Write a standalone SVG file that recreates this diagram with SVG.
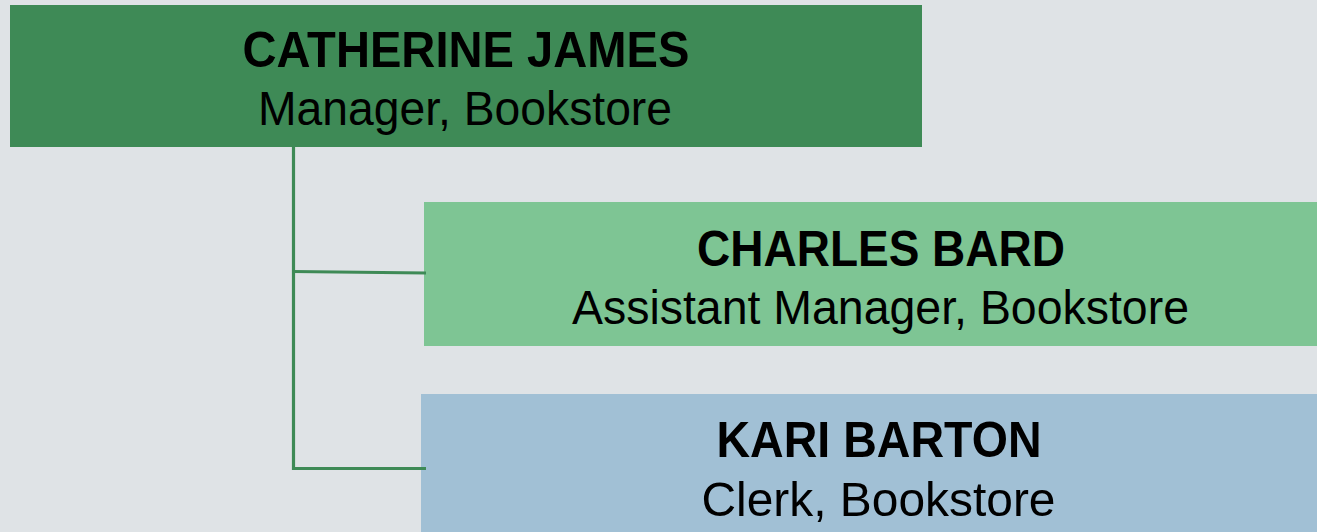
<svg xmlns="http://www.w3.org/2000/svg" width="1317" height="532" viewBox="0 0 1317 532">
<style>
.name{font-family:"Liberation Sans",Arial,sans-serif;font-weight:bold;font-size:50px;fill:#000;text-anchor:middle}
.role{font-family:"Liberation Sans",Arial,sans-serif;font-size:49px;fill:#000;text-anchor:middle}
.conn{stroke:#3e8a56;stroke-width:3.2;fill:none;stroke-linecap:butt}
</style>
<rect x="0" y="0" width="1317" height="532" fill="#dfe3e6"/>
<g id="node-catherine">
<rect x="10" y="5" width="912" height="142" fill="#3e8a56"/>
<text class="name" x="466" y="67" textLength="447" lengthAdjust="spacingAndGlyphs">CATHERINE JAMES</text>
<text class="role" x="465" y="125" textLength="414" lengthAdjust="spacingAndGlyphs">Manager, Bookstore</text>
</g>
<g id="node-charles">
<rect x="424" y="202" width="913" height="144" fill="#7ec594"/>
<text class="name" x="881" y="266" textLength="368" lengthAdjust="spacingAndGlyphs">CHARLES BARD</text>
<text class="role" x="880.5" y="324" textLength="617" lengthAdjust="spacingAndGlyphs">Assistant Manager, Bookstore</text>
</g>
<g id="node-kari">
<rect x="421" y="394" width="916" height="150" fill="#a1c0d5"/>
<text class="name" x="879" y="457" textLength="325" lengthAdjust="spacingAndGlyphs">KARI BARTON</text>
<text class="role" x="878.5" y="516" textLength="354" lengthAdjust="spacingAndGlyphs">Clerk, Bookstore</text>
</g>
<g id="connectors">
<path class="conn" d="M293.5,147 V470 M292,468.5 H426"/>
<path class="conn" d="M292,271.5 L426,273"/>
</g>
</svg>
